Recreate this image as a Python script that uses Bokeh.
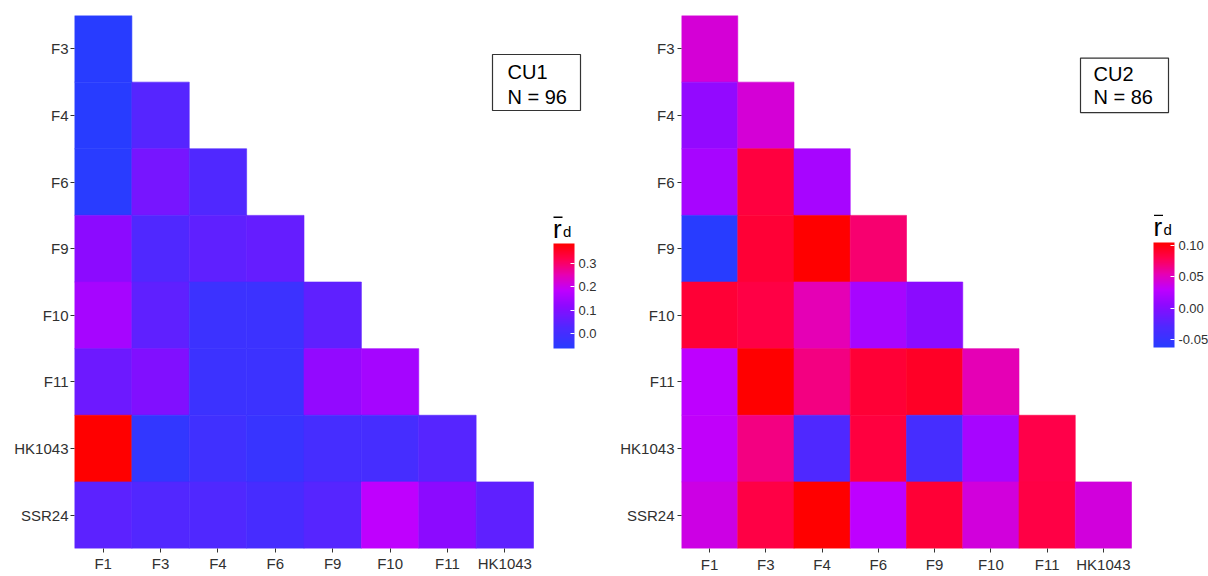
import numpy as np
from bokeh.plotting import figure
from bokeh.layouts import row
from bokeh.models import (ColumnDataSource, LinearColorMapper, ColorBar, FixedTicker,
                          PrintfTickFormatter, Range1d, Label, BoxAnnotation)
from bokeh.embed import file_html
from bokeh.resources import INLINE

# ---- data -------------------------------------------------------------
x_labels = ["F1", "F3", "F4", "F6", "F9", "F10", "F11", "HK1043"]
y_labels = ["F3", "F4", "F6", "F9", "F10", "F11", "HK1043", "SSR24"]

# lower-triangular matrices of mean r_d, one row per y label
cu1_values = [
    [-0.064],
    [-0.063, 0.035],
    [-0.062, 0.085, 0.026],
    [0.116, 0.026, 0.049, 0.058],
    [0.152, 0.049, -0.019, -0.019, 0.049],
    [0.070, 0.100, -0.019, -0.019, 0.125, 0.150],
    [0.386, -0.040, -0.010, -0.028, 0.004, 0.004, 0.035],
    [0.044, 0.030, 0.026, 0.008, 0.035, 0.184, 0.116, 0.049],
]
cu2_values = [
    [0.043],
    [0.008, 0.043],
    [0.018, 0.084, 0.018],
    [-0.062, 0.087, 0.104, 0.071],
    [0.087, 0.082, 0.054, 0.018, 0.004],
    [0.029, 0.104, 0.067, 0.087, 0.092, 0.054],
    [0.031, 0.067, -0.029, 0.084, -0.037, 0.018, 0.081],
    [0.038, 0.082, 0.104, 0.029, 0.087, 0.041, 0.082, 0.041],
]
cu1_ticks = [0.0, 0.1, 0.2, 0.3]
cu2_ticks = [-0.05, 0.0, 0.05, 0.10]

# ---- colour scale: blue -> violet -> purple -> magenta -> red ---------
stops = [
    (0.00, (40, 60, 255)),
    (0.20, (80, 40, 255)),
    (0.40, (140, 10, 255)),
    (0.55, (190, 0, 255)),
    (0.70, (230, 0, 180)),
    (0.85, (255, 0, 80)),
    (1.00, (255, 0, 0)),
]


def make_palette(n=256):
    pos = np.array([s[0] for s in stops])
    rgb = np.array([s[1] for s in stops], dtype=float)
    t = np.linspace(0, 1, n)
    cols = [np.interp(t, pos, rgb[:, k]) for k in range(3)]
    return ["#%02x%02x%02x" % (int(round(r)), int(round(g)), int(round(b)))
            for r, g, b in zip(*cols)]


PALETTE = make_palette()
FONT = "Liberation Sans"
TEXT_COL = "#303030"


def build_panel(values, ticks, fmt, width, border_left, border_bottom,
                tag, n_label, geo, text_px, cb_px, title_px):
    xs, ys, vs = [], [], []
    for i, row_vals in enumerate(values):
        for j, v in enumerate(row_vals):
            xs.append(j + 0.5)
            ys.append(i + 0.5)
            vs.append(v)
    src = ColumnDataSource(dict(x=xs, y=ys, v=vs))

    height = 576
    border_top = 15
    border_right = 5
    frame_w = width - border_left - border_right
    frame_h = height - border_top - border_bottom
    # tiles occupy a fixed share of the frame; the rest holds the legend
    cell_w = geo["cell_w"]
    cell_h = frame_h / len(y_labels)
    x_end = frame_w / cell_w

    p = figure(width=width, height=height, output_backend="svg",
               toolbar_location=None,
               x_range=Range1d(0, x_end), y_range=Range1d(len(y_labels), 0),
               min_border_left=border_left, min_border_right=border_right,
               min_border_top=border_top, min_border_bottom=border_bottom)
    p.outline_line_color = None
    p.grid.visible = False
    p.background_fill_color = "white"
    p.border_fill_color = "white"

    mapper = LinearColorMapper(palette=PALETTE, low=min(vs), high=max(vs))
    p.rect(x="x", y="y", width=1, height=1, source=src,
           fill_color={"field": "v", "transform": mapper},
           line_color={"field": "v", "transform": mapper}, line_width=0.6)

    for ax, labels, standoff in ((p.xaxis, x_labels, geo["xs"]),
                                 (p.yaxis, y_labels, geo["ys"])):
        ax.ticker = FixedTicker(ticks=[k + 0.5 for k in range(len(labels))])
        ax.major_label_overrides = {k + 0.5: lab for k, lab in enumerate(labels)}
        ax.axis_line_color = None
        ax.minor_tick_line_color = None
        ax.major_tick_line_color = "#333333"
        ax.major_tick_out = 4
        ax.major_tick_in = 0
        ax.major_label_text_font = FONT
        ax.major_label_text_font_size = "15px"
        ax.major_label_text_color = TEXT_COL
        ax.major_label_standoff = standoff

    def to_data(px, py):
        return px / cell_w, py / cell_h

    # annotation box with the group name and sample size
    l, t = to_data(geo["l"], geo["t"])
    r, b = to_data(geo["r"], geo["b"])
    p.add_layout(BoxAnnotation(left=l, right=r, top=t, bottom=b,
                               fill_color="white", fill_alpha=1,
                               line_color="#333333", line_alpha=1, line_width=1.2))
    for txt, (tx, ty) in ((tag, text_px[0]), (n_label, text_px[1])):
        dx, dy = to_data(tx, ty)
        p.add_layout(Label(x=dx, y=dy, text=txt, text_font=FONT,
                           text_font_size="20px", text_color="black",
                           text_baseline="middle", text_align="left"))

    # colour bar legend
    cb = ColorBar(color_mapper=mapper, ticker=FixedTicker(ticks=ticks),
                  formatter=PrintfTickFormatter(format=fmt),
                  location=(cb_px[0], frame_h - cb_px[1]),
                  width=21, height=cb_px[2], padding=0,
                  major_label_text_font=FONT, major_label_text_font_size="13px",
                  major_label_text_color=TEXT_COL, label_standoff=4,
                  major_tick_line_color="white", major_tick_in=4, major_tick_out=0,
                  minor_tick_line_color=None, bar_line_color=None,
                  border_line_color=None, background_fill_alpha=0)
    p.add_layout(cb)

    # legend title: r with an overbar, subscript d
    tx0, ty0 = title_px
    rx, ry = to_data(tx0, ty0 - 9)
    p.add_layout(Label(x=rx, y=ry, text="r", text_font=FONT,
                       text_font_size="26px", text_color="black",
                       text_baseline="alphabetic", text_align="left"))
    bl, bt = to_data(tx0 + 0.5, ty0 - 21)
    br, bb = to_data(tx0 + 9.5, ty0 - 19.5)
    p.add_layout(BoxAnnotation(left=bl, right=br, top=bt, bottom=bb,
                               fill_color="black", fill_alpha=1, line_color=None))
    sx, sy = to_data(tx0 + 10, ty0 - 6)
    p.add_layout(Label(x=sx, y=sy, text="d", text_font=FONT,
                       text_font_size="15px", text_color="black",
                       text_baseline="alphabetic", text_align="left"))
    return p


left = build_panel(cu1_values, cu1_ticks, "%.1f", 610, 74, 28, "CU1", "N = 96",
                   dict(cell_w=57.375, l=418, r=506, t=39, b=95, xs=2, ys=2),
                   [(433, 56), (433, 81)], (479, 333, 105), (478.5, 222))
right = build_panel(cu2_values, cu2_ticks, "%.2f", 598, 71, 23, "CU2", "N = 86",
                    dict(cell_w=56.25, l=399, r=487, t=43, b=98, xs=3, ys=3),
                    [(412, 59), (412, 82)], (472, 337, 105), (472, 222))

layout = row(left, right)
open("out.html", "w").write(file_html(layout, INLINE))
